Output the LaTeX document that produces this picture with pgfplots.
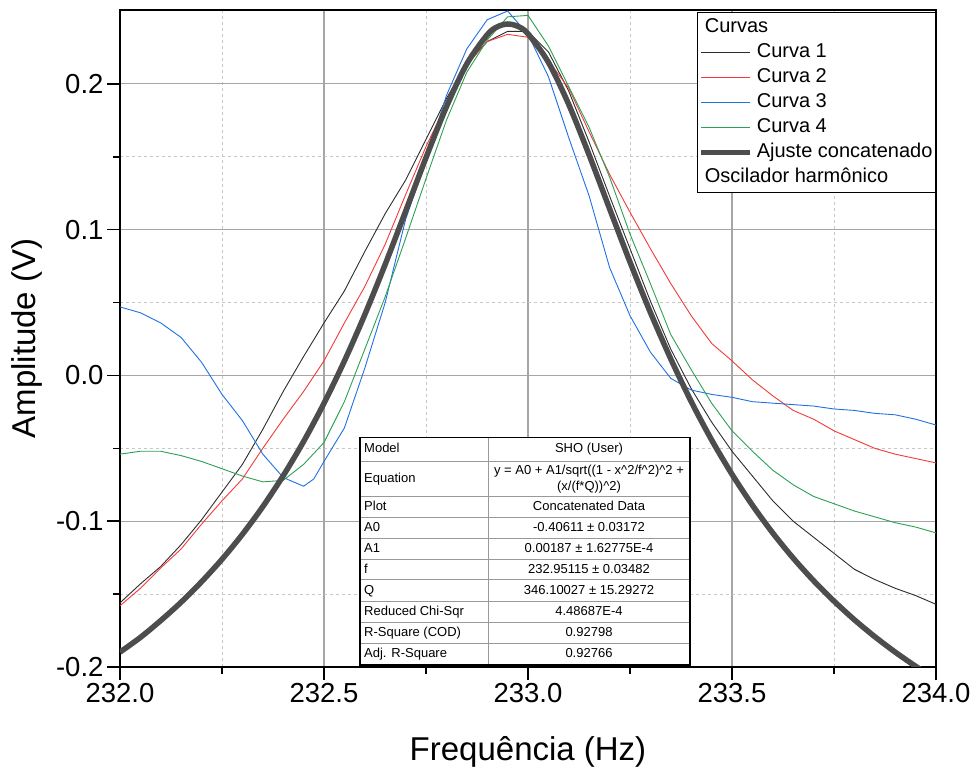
\documentclass[border=0pt]{standalone}
\usepackage{fontspec}
\setmainfont{Liberation Sans}
\usepackage{pgfplots}
\pgfplotsset{compat=1.18}
\definecolor{c1}{RGB}{45,45,45}
\definecolor{c2}{RGB}{242,58,58}
\definecolor{c3}{RGB}{32,112,228}
\definecolor{c4}{RGB}{44,160,82}
\definecolor{cfit}{RGB}{77,77,77}
\newcommand{\tabfont}{\fontsize{13}{15.5}\selectfont}
\begin{document}
\begin{tikzpicture}
\begin{axis}[
  scale only axis, width=816pt, height=657pt,
  xmin=232, xmax=234, ymin=-0.2, ymax=0.2507,
  xtick={232,232.5,233,233.5,234},
  ytick={-0.2,-0.1,0,0.1,0.2},
  minor x tick num=1, minor y tick num=1,
  tick pos=left, tick align=outside,
  major tick length=13pt, minor tick length=7pt,
  tick style={black, line width=1.5pt},
  axis line style={line width=1.8pt},
  grid=both,
  major grid style={draw=black!35, line width=1.2pt, solid},
  minor grid style={draw=black!22, line width=0.9pt, dash pattern=on 3pt off 3pt},
  /pgf/number format/assume math mode=true,
  xticklabel style={font=\fontsize{27.5}{30}\selectfont, /pgf/number format/.cd, fixed, fixed zerofill, precision=1},
  yticklabel style={font=\fontsize{27.5}{30}\selectfont, /pgf/number format/.cd, fixed, fixed zerofill, precision=1},
  xlabel={Frequência (Hz)}, ylabel={Amplitude (V)},
  label style={font=\fontsize{33}{38}\selectfont},
  xlabel style={at={([yshift=-93pt]axis description cs:0.5,0)}, anchor=base},
  ylabel style={at={([xshift=-84pt]axis description cs:0,0.5)}, anchor=base},
  legend cell align=left,
  legend image code/.code={\draw[#1] (0pt,0pt) -- (49pt,0pt);},
  legend style={at={(1,1)}, anchor=north east, yshift=-2pt, draw=black, line width=1pt, fill=white,
    font=\fontsize{20}{23}\selectfont, inner xsep=1pt, inner ysep=4pt, row sep=3pt, column sep=2pt,
    nodes={inner xsep=2pt, inner ysep=2pt, text height=14pt, text depth=4pt}},
]
\addlegendimage{empty legend}
\addlegendentry{\hspace*{-52pt}Curvas}

\addplot[c1, line width=0.9pt] coordinates {
(232.00,-0.156) (232.05,-0.143) (232.10,-0.131) (232.15,-0.116) (232.20,-0.099)
(232.25,-0.080) (232.30,-0.061) (232.35,-0.037) (232.40,-0.011) (232.45,0.013)
(232.50,0.036) (232.55,0.058) (232.60,0.085) (232.65,0.111) (232.70,0.134)
(232.75,0.162) (232.80,0.190) (232.85,0.214) (232.90,0.229) (232.95,0.236)
(233.00,0.236) (233.05,0.222) (233.10,0.195) (233.15,0.160) (233.20,0.123)
(233.25,0.087) (233.30,0.051) (233.35,0.018) (233.40,-0.009) (233.45,-0.032)
(233.50,-0.052) (233.55,-0.069) (233.60,-0.086) (233.65,-0.100) (233.70,-0.111)
(233.75,-0.122) (233.80,-0.133) (233.85,-0.140) (233.90,-0.146) (233.95,-0.151)
(234.00,-0.157)
};
\addlegendentry{Curva 1}

\addplot[c2, line width=0.9pt] coordinates {
(232.00,-0.158) (232.05,-0.146) (232.10,-0.132) (232.15,-0.119) (232.20,-0.102)
(232.25,-0.086) (232.30,-0.071) (232.35,-0.050) (232.40,-0.030) (232.45,-0.011)
(232.50,0.010) (232.55,0.036) (232.60,0.061) (232.65,0.090) (232.70,0.124)
(232.75,0.157) (232.80,0.186) (232.85,0.213) (232.90,0.229) (232.95,0.234)
(233.00,0.232) (233.05,0.216) (233.10,0.197) (233.15,0.167) (233.20,0.138)
(233.25,0.112) (233.30,0.087) (233.35,0.063) (233.40,0.041) (233.45,0.022)
(233.50,0.010) (233.55,-0.003) (233.60,-0.014) (233.65,-0.024) (233.70,-0.030)
(233.75,-0.038) (233.80,-0.044) (233.85,-0.050) (233.90,-0.054) (233.95,-0.057)
(234.00,-0.060)
};
\addlegendentry{Curva 2}

\addplot[c3, line width=0.9pt] coordinates {
(232.00,0.047) (232.05,0.043) (232.10,0.036) (232.15,0.026) (232.20,0.009)
(232.25,-0.013) (232.30,-0.031) (232.35,-0.054) (232.40,-0.070) (232.45,-0.076)
(232.475,-0.071) (232.50,-0.059) (232.55,-0.036) (232.60,0.005) (232.65,0.050)
(232.70,0.107) (232.75,0.148) (232.80,0.192) (232.85,0.224) (232.90,0.244)
(232.95,0.250) (233.00,0.234) (233.05,0.205) (233.10,0.163) (233.15,0.123)
(233.20,0.074) (233.25,0.041) (233.30,0.016) (233.35,-0.002) (233.40,-0.010)
(233.45,-0.013) (233.50,-0.015) (233.55,-0.018) (233.60,-0.019) (233.65,-0.020)
(233.70,-0.021) (233.75,-0.023) (233.80,-0.024) (233.85,-0.026) (233.90,-0.027)
(233.95,-0.030) (234.00,-0.034)
};
\addlegendentry{Curva 3}

\addplot[c4, line width=0.9pt] coordinates {
(232.00,-0.054) (232.05,-0.052) (232.10,-0.052) (232.15,-0.055) (232.20,-0.059)
(232.25,-0.064) (232.30,-0.069) (232.35,-0.073) (232.40,-0.072) (232.45,-0.061)
(232.50,-0.046) (232.55,-0.018) (232.60,0.018) (232.65,0.054) (232.70,0.094)
(232.75,0.135) (232.80,0.175) (232.85,0.208) (232.90,0.230) (232.95,0.246)
(233.00,0.247) (233.05,0.226) (233.10,0.198) (233.15,0.170) (233.20,0.136)
(233.25,0.097) (233.30,0.063) (233.35,0.028) (233.40,0.004) (233.45,-0.019)
(233.50,-0.038) (233.55,-0.052) (233.60,-0.065) (233.65,-0.075) (233.70,-0.083)
(233.75,-0.088) (233.80,-0.093) (233.85,-0.097) (233.90,-0.101) (233.95,-0.104)
(234.00,-0.108)
};
\addlegendentry{Curva 4}

\addplot[cfit, line width=5.5pt, smooth] coordinates {
(232.00,-0.1898) (232.05,-0.1797) (232.10,-0.1681) (232.15,-0.1555) (232.20,-0.1415)
(232.25,-0.1261) (232.30,-0.1090) (232.35,-0.0900) (232.40,-0.0688) (232.45,-0.0453)
(232.50,-0.0191) (232.55,0.0099) (232.60,0.0417) (232.65,0.0762) (232.70,0.1126)
(232.75,0.1494) (232.80,0.1843) (232.85,0.2137) (232.90,0.2337) (232.925,0.2392)
(232.95,0.2411) (232.975,0.2395) (233.00,0.2344) (233.05,0.2148) (233.10,0.1858)
(233.15,0.1511) (233.20,0.1143) (233.25,0.0778) (233.30,0.0432) (233.35,0.0113)
(233.40,-0.0179) (233.45,-0.0442) (233.50,-0.0678) (233.55,-0.0890) (233.60,-0.1081)
(233.65,-0.1253) (233.70,-0.1408) (233.75,-0.1548) (233.80,-0.1676) (233.85,-0.1792)
(233.90,-0.1898) (233.95,-0.1995) (234.00,-0.2088)
};
\addlegendentry{Ajuste concatenado}

\addlegendimage{empty legend}
\addlegendentry{\hspace*{-52pt}Oscilador harmônico}
\end{axis}

\begin{scope}[x=1pt,y=-1pt,shift={(-120pt,667pt)}]
\fill[white] (360,437.3) rectangle (690,665);
\foreach \yy in {461.7,496.7,517.3,538.3,559.3,580,601.7,622.7,643.3}
  \draw[black!40, line width=1pt] (360,\yy) -- (690,\yy);
\draw[black!40, line width=1pt] (488,437.3) -- (488,665);
\draw[black, line width=1.1pt] (360,437.3) rectangle (690,665);
\tikzset{lc/.style={anchor=west, font=\tabfont, inner sep=0pt, text height=9.5pt, text depth=2.8pt},
         rc/.style={anchor=center, font=\tabfont, inner sep=0pt, text height=9.5pt, text depth=2.8pt}}
\node[lc] at (364,449.5) {Model};
\node[rc] at (589,449.5) {SHO (User)};
\node[lc] at (364,479.2) {Equation};
\node[anchor=center, font=\tabfont, inner sep=0pt, align=center] at (589,479.2)
  {y = A0 + A1/sqrt((1 - x\textasciicircum 2/f\textasciicircum 2)\textasciicircum 2 +\\(x/(f*Q))\textasciicircum 2)};
\node[lc] at (364,507) {Plot};
\node[rc] at (589,507) {Concatenated Data};
\node[lc] at (364,527.8) {A0};
\node[rc] at (589,527.8) {-0.40611 ± 0.03172};
\node[lc] at (364,548.8) {A1};
\node[rc] at (589,548.8) {0.00187 ± 1.62775E-4};
\node[lc] at (364,569.7) {f};
\node[rc] at (589,569.7) {232.95115 ± 0.03482};
\node[lc] at (364,590.9) {Q};
\node[rc] at (589,590.9) {346.10027 ± 15.29272};
\node[lc] at (364,612.2) {Reduced Chi-Sqr};
\node[rc] at (589,612.2) {4.48687E-4};
\node[lc] at (364,633) {R-Square (COD)};
\node[rc] at (589,633) {0.92798};
\node[lc] at (364,654.2) {Adj. R-Square};
\node[rc] at (589,654.2) {0.92766};
\end{scope}

\pgfresetboundingbox
\path[use as bounding box] (-120pt,-103pt) rectangle (854pt,667pt);
\end{tikzpicture}
\end{document}
